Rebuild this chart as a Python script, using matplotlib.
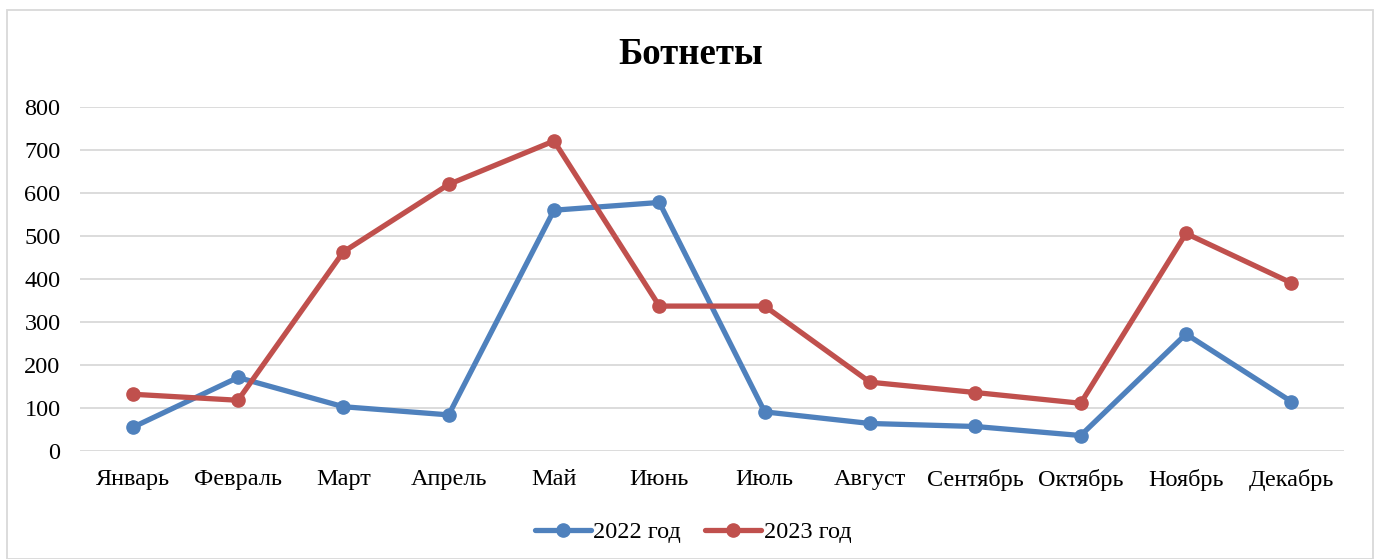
import matplotlib
matplotlib.use("Agg")
import matplotlib.pyplot as plt
from matplotlib.patches import Rectangle

months = ["Январь", "Февраль", "Март", "Апрель", "Май", "Июнь", "Июль",
          "Август", "Сентябрь", "Октябрь", "Ноябрь", "Декабрь"]
values_2022 = [55, 171, 103, 84, 560, 578, 91, 64, 57, 36, 272, 115]
values_2023 = [132, 118, 463, 620, 721, 337, 337, 160, 136, 111, 506, 391]
series_names = ["2022 год", "2023 год"]
yticks = [0, 100, 200, 300, 400, 500, 600, 700, 800]
title = "Ботнеты"

plt.rcParams['font.family'] = ['Liberation Serif', 'DejaVu Serif']

W, H = 1379, 559
fig = plt.figure(figsize=(W / 100, H / 100), dpi=100)
ax = fig.add_axes([80 / W, 1 - 451 / H, (1344 - 80) / W, (451 - 107) / H])

x = list(range(len(months)))
ax.plot(x, values_2022, color="#4F81BD", lw=3.8, marker="o", ms=9.5,
        label=series_names[0], solid_capstyle="round")
ax.plot(x, values_2023, color="#C0504D", lw=3.8, marker="o", ms=9.5,
        label=series_names[1], solid_capstyle="round")

ax.set_xlim(-0.5, len(months) - 0.5)
ax.set_ylim(0, 800)
ax.set_yticks(yticks)
ax.set_xticks(x)
ax.set_xticklabels(months)
ax.yaxis.grid(True, color="#D9D9D9", lw=1.3)
ax.set_axisbelow(True)
for s in ax.spines.values():
    s.set_visible(False)
ax.tick_params(axis="both", length=0, labelsize=17.5, colors="black")
ax.tick_params(axis="y", pad=14)
ax.tick_params(axis="x", pad=13)

fig.text(691 / W, 1 - 55 / H, title, ha="center", va="center",
         fontsize=26.5, fontweight="bold")

leg = fig.legend(loc="center", bbox_to_anchor=(693 / W, 1 - 532 / H),
                 ncol=2, frameon=False, fontsize=17.5, handlelength=2.3,
                 columnspacing=1.0, handletextpad=0.1)

fig.patches.append(Rectangle((7 / W, 0), (1373 - 7) / W, 1 - 10 / H,
                             transform=fig.transFigure, fill=False,
                             edgecolor="#D9D9D9", lw=1.3))

fig.savefig("out.png", dpi=100)
